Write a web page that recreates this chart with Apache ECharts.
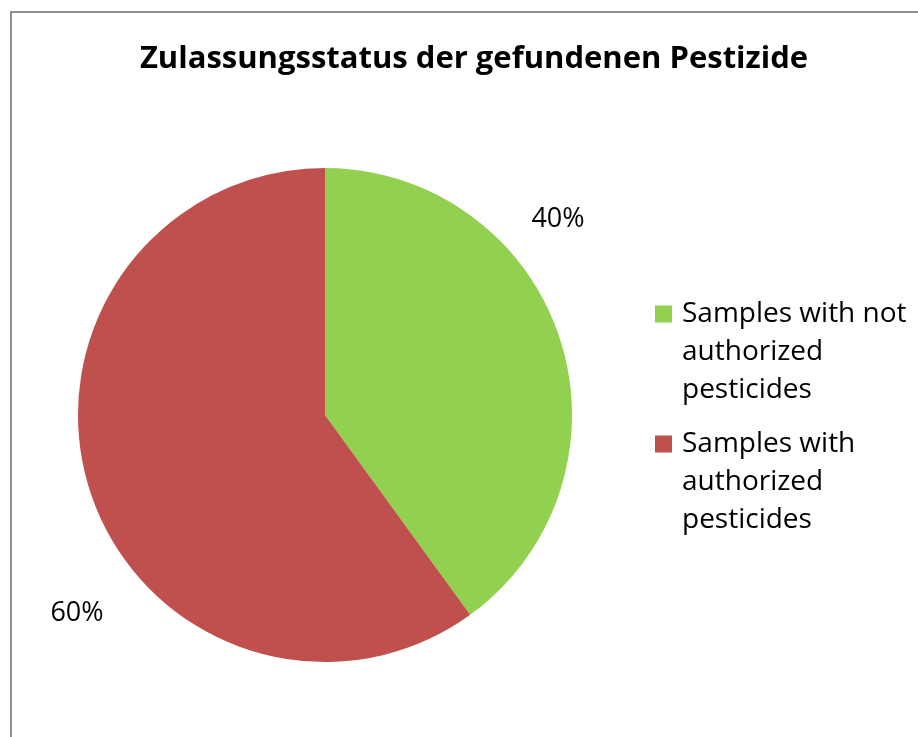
<!DOCTYPE html>
<html>
<head>
<meta charset="utf-8">
<script src="https://cdn.jsdelivr.net/npm/echarts@6/dist/echarts.min.js"></script>
<style>
  html, body { margin: 0; padding: 0; background: #fff; }
  #frame { position: absolute; left: 10px; top: 11px; width: 920px; height: 740px;
           border-left: 2px solid #8f8f8f; border-top: 2px solid #8f8f8f; }
  #chart { position: absolute; left: 0; top: 0; width: 918px; height: 737px; }
</style>
</head>
<body>
<div id="frame"></div>
<div id="chart"></div>
<script>
var titleText = 'Zulassungsstatus der gefundenen Pestizide';
var categories = ['Samples with not authorized pesticides', 'Samples with authorized pesticides'];
var shares = [40, 60];
var colors = ['#92D050', '#C0504D'];
// where Excel put the percent labels
var labelSpots = [[558, 219], [77, 613]];

var chart = echarts.init(document.getElementById('chart'));

var pieData = [];
for (var i = 0; i < categories.length; i++) {
    pieData.push({ name: categories[i], value: shares[i], itemStyle: { color: colors[i] } });
}

// square on top of a tall box, so the marker sits next to the first text line
var legendIcon = 'path://M0,0h17v17h-17z M0,93h17';

var option = {
    backgroundColor: 'transparent',
    animation: false,
    title: {
        text: titleText,
        left: 469,
        textAlign: 'center',
        top: 39,
        textStyle: { fontFamily: 'Open Sans', fontWeight: 'bold', fontSize: 31, color: '#000' }
    },
    legend: {
        orient: 'vertical',
        left: 655,
        top: 295,
        padding: 0,
        itemWidth: 17,
        itemHeight: 93,
        itemGap: 16,
        icon: legendIcon,
        formatter: function (name) {
            return name.replace(' authorized', '\nauthorized').replace(' pesticides', '\npesticides');
        },
        textStyle: { fontFamily: 'Open Sans', fontSize: 28, color: '#000', lineHeight: 38, padding: [0, 0, 0, 5] },
        data: categories
    },
    series: [{
        type: 'pie',
        center: [325, 415],
        radius: 247,
        startAngle: 90,
        clockwise: true,
        label: {
            show: true,
            position: 'outside',
            formatter: '{d}%',
            overflow: 'none',
            fontFamily: 'Open Sans', fontSize: 27, color: '#000'
        },
        labelLine: { show: false },
        labelLayout: function (params) {
            var p = labelSpots[params.dataIndex];
            return { x: p[0], y: p[1], align: 'center', verticalAlign: 'middle' };
        },
        emphasis: { disabled: true },
        data: pieData
    }]
};

chart.setOption(option);
</script>
</body>
</html>
